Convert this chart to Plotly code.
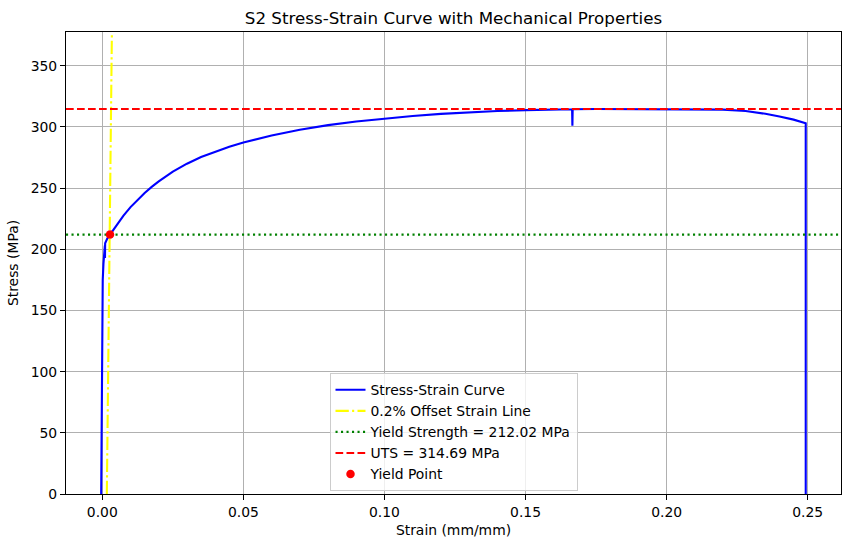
import plotly.graph_objects as go

# ---- data ----
strain = [-0.0004, -0.0003, -0.0002, 0.0, 0.00015, 0.0004, 0.0006, 0.0008, 0.0009, 0.00095, 0.0010,
          0.0018, 0.00273, 0.005, 0.0075, 0.01, 0.0125, 0.015, 0.0175, 0.02, 0.025, 0.03, 0.035,
          0.04, 0.045, 0.05, 0.06, 0.07, 0.08, 0.09, 0.10, 0.11, 0.12, 0.13, 0.14, 0.15, 0.16,
          0.1665, 0.1666, 0.1667, 0.175, 0.19, 0.20, 0.21, 0.22, 0.228, 0.235, 0.24, 0.245,
          0.2493, 0.2493]
stress = [0, 40, 93, 140, 175, 188, 194, 199, 203, 193, 205,
          209, 212.0, 220, 227.5, 234.5, 240.5, 246, 251, 255.5, 263.5, 270, 275.5,
          280, 283.9, 287.3, 293, 297.8, 301.5, 304.5, 307, 309, 310.7, 312, 313, 313.8, 314.3,
          314.5, 301, 314.5, 314.65, 314.69, 314.68, 314.6, 314.2, 313, 310.8, 308.5, 306,
          303, 0]

offset_strain = [0.0016, 0.0036]
offset_stress = [0, 420]

yield_strength = 212.02
uts = 314.69
yield_point_strain = [0.00273]
yield_point_stress = [212.02]

x_range = [-0.01287, 0.2618]
y_range = [0, 377.63]
x_ticks = [0.0, 0.05, 0.10, 0.15, 0.20, 0.25]
y_ticks = [0, 50, 100, 150, 200, 250, 300, 350]

FONT = "DejaVu Sans"

fig = go.Figure()
fig.add_trace(go.Scatter(x=strain, y=stress, mode="lines", name="Stress-Strain Curve",
                         line=dict(color="#0000FF", width=2.1)))
fig.add_trace(go.Scatter(x=offset_strain, y=offset_stress, mode="lines", name="0.2% Offset Strain Line",
                         line=dict(color="#FFFF00", width=2.1, dash="13.3px,3.3px,2.1px,3.3px")))
fig.add_trace(go.Scatter(x=x_range, y=[yield_strength, yield_strength], mode="lines",
                         name=f"Yield Strength = {yield_strength:.2f} MPa",
                         line=dict(color="#008000", width=2.1, dash="2.1px,3.4px")))
fig.add_trace(go.Scatter(x=x_range, y=[uts, uts], mode="lines",
                         name=f"UTS = {uts:.2f} MPa",
                         line=dict(color="#FF0000", width=2.1, dash="7.7px,3.3px")))
fig.add_trace(go.Scatter(x=yield_point_strain, y=yield_point_stress, mode="markers", name="Yield Point",
                         marker=dict(color="#FF0000", size=8.5)))

axis_common = dict(showline=True, linecolor="black", linewidth=1.1, mirror=True,
                   ticks="outside", ticklen=5, tickwidth=1.1, tickcolor="black",
                   showgrid=True, gridcolor="#b0b0b0", gridwidth=1.1, zeroline=False,
                   tickfont=dict(family=FONT, size=13.9, color="black"))

fig.update_layout(
    width=850, height=547,
    margin=dict(l=66, r=9, t=32, b=53),
    paper_bgcolor="white", plot_bgcolor="white",
    title=dict(text="S2 Stress-Strain Curve with Mechanical Properties",
               x=0.5, xref="paper", y=1 - 18 / 547, yanchor="middle",
               font=dict(family=FONT, size=16.7, color="black")),
    xaxis=dict(range=x_range, tickvals=x_ticks, tickformat=".2f",
               title=dict(text="Strain (mm/mm)", font=dict(family=FONT, size=13.9, color="black"), standoff=6),
               **axis_common),
    yaxis=dict(range=y_range, tickvals=y_ticks,
               title=dict(text="Stress (MPa)", font=dict(family=FONT, size=13.9, color="black"), standoff=8),
               **axis_common),
    legend=dict(x=0.5, xanchor="center", y=0.006, yanchor="bottom",
                bgcolor="rgba(255,255,255,0.8)", bordercolor="#cccccc", borderwidth=1,
                font=dict(family=FONT, size=13.9, color="black"), tracegroupgap=0),
    showlegend=True,
)

fig.write_html("out.html")
